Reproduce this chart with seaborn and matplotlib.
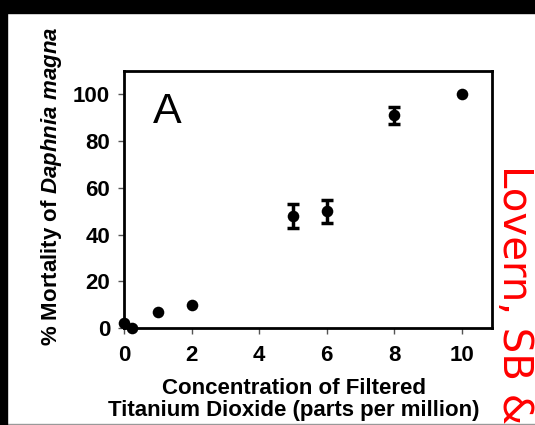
import numpy as np
import pandas as pd
import seaborn as sns
import matplotlib.pyplot as plt
from matplotlib.patches import Rectangle
from matplotlib.lines import Line2D

# values
conc = [0, 0.25, 1, 2, 5, 6, 8, 10]
mortality = [2, 0, 7, 10, 48, 50, 91, 100]
sem = [0, 0, 0, 0, 5, 5, 3.5, 0]

xticks = [0, 2, 4, 6, 8, 10]
yticks = [0, 20, 40, 60, 80, 100]

df = pd.DataFrame({"conc": conc, "mortality": mortality, "sem": sem})

sns.set_style("ticks")
plt.rcParams["font.family"] = ["Liberation Sans", "DejaVu Sans"]
plt.rcParams["text.color"] = "black"
plt.rcParams["axes.labelcolor"] = "black"
plt.rcParams["mathtext.fontset"] = "custom"
plt.rcParams["mathtext.it"] = "Liberation Sans:italic:bold"
plt.rcParams["mathtext.rm"] = "Liberation Sans:bold"

W, H = 535, 425
fig = plt.figure(figsize=(W / 100, H / 100), dpi=100)
ax = fig.add_axes([124 / W, 1 - 328 / H, 368 / W, 257 / H])

sns.scatterplot(data=df, x="conc", y="mortality", ax=ax, color="black",
                s=70, marker="o", edgecolor="black", linewidth=0,
                clip_on=False, zorder=3, legend=False)
bars = df[df["sem"] > 0]
ax.errorbar(bars["conc"], bars["mortality"], yerr=bars["sem"], fmt="none",
            ecolor="black", elinewidth=2.5, capsize=4.5, capthick=2.5, zorder=2)

ax.set_xlim(0, 10.9)
ax.set_ylim(0, 110)
ax.set_xticks(xticks)
ax.set_yticks(yticks)
ax.tick_params(direction="out", length=4, width=1, color="#555555",
               labelsize=16, labelcolor="black")
ax.tick_params(axis="x", pad=8)
ax.tick_params(axis="y", pad=6)
for lab in ax.get_xticklabels() + ax.get_yticklabels():
    lab.set_fontweight("bold")
for sp in ax.spines.values():
    sp.set_linewidth(2)
    sp.set_color("black")

ax.set_xlabel("Concentration of Filtered\nTitanium Dioxide (parts per million)",
              fontsize=16, fontweight="bold", linespacing=1.08)
ax.xaxis.set_label_coords((294 - 124) / 368, (328 - 378) / 257)
ax.set_ylabel(r"% Mortality of $\mathit{Daphnia\ magna}$",
              fontsize=16, fontweight="bold")
ax.yaxis.set_label_coords((64 - 124) / 368, (328 - 186) / 257)

ax.text(0.079, 0.918, "A", transform=ax.transAxes, fontsize=31,
        ha="left", va="top", color="black")

# screenshot frame
fig.add_artist(Rectangle((0, 1 - 13 / H), 1, 13 / H, transform=fig.transFigure,
                         color="black", zorder=10))
fig.add_artist(Rectangle((0, 0), 7 / W, 1, transform=fig.transFigure,
                         color="black", zorder=10))
fig.add_artist(Line2D([7 / W, 1], [1 - 424 / H] * 2, transform=fig.transFigure,
                      color="#999999", lw=1))

fig.text(503 / W, 1 - 165 / H, "Lovern, SB &", color="red", fontsize=29,
         family=["DejaVu Sans"], rotation=-90,
         rotation_mode="anchor", ha="left", va="baseline")

fig.savefig("out.png", dpi=100)
